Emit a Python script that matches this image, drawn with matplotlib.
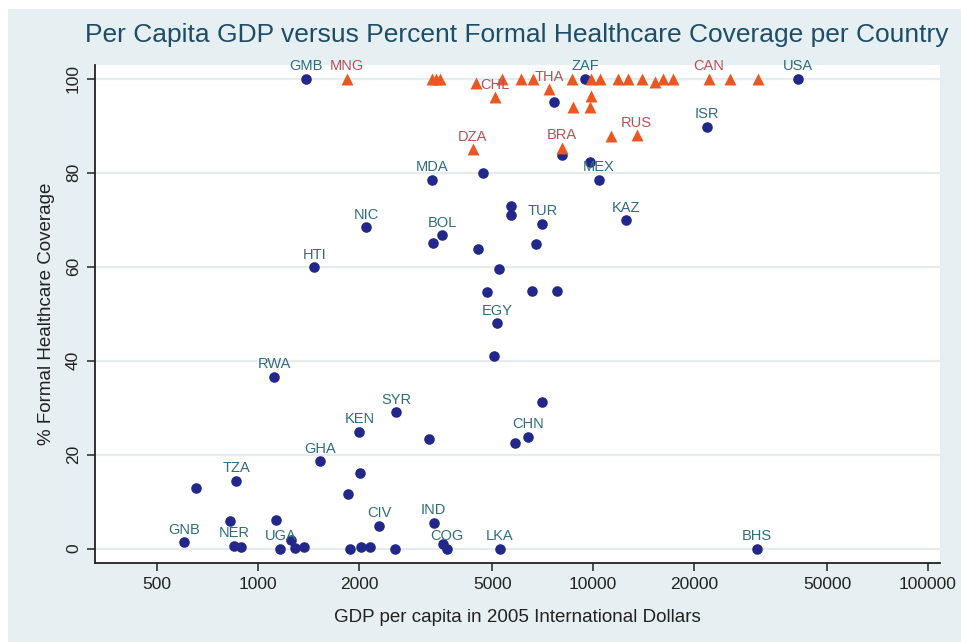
import matplotlib
matplotlib.use("Agg")
import matplotlib.pyplot as plt
from matplotlib.patches import Rectangle
from matplotlib.ticker import FixedLocator, NullLocator

# Countries with formal coverage (circles)
circle_gdp = [1388, 9465, 40930, 7647, 8065, 9800, 21850, 10420, 3313, 4705,
              5679, 5679, 7060, 12550, 2101, 3549, 3337, 6758, 4546, 1472,
              5241, 4836, 6589, 7806, 5169, 5052, 1116, 2582, 2006, 3233,
              7044, 6410, 5838, 1528, 2020, 860, 653, 1860, 827, 1129,
              2302, 3346, 603, 848, 888, 1252, 1166, 1289, 1375, 1882,
              2036, 2160, 2564, 3574, 3659, 5277, 30870]
circle_cov = [100, 100, 100, 95.0, 83.8, 82.3, 89.8, 78.5, 78.5, 79.9,
              72.9, 70.9, 69.1, 69.9, 68.4, 66.7, 65.1, 64.8, 63.7, 59.9,
              59.5, 54.5, 54.9, 54.9, 48.0, 41.0, 36.6, 29.0, 24.9, 23.3,
              31.1, 23.8, 22.4, 18.6, 16.0, 14.4, 12.85, 11.6, 5.9, 6.2,
              4.9, 5.5, 1.4, 0.6, 0.4, 1.85, 0.0, 0.1, 0.4, 0.0,
              0.3, 0.4, 0.0, 1.0, 0.0, 0.0, 0.0]
circle_lab = ["GMB", "ZAF", "USA", "", "", "", "ISR", "MEX", "MDA", "",
              "", "", "TUR", "KAZ", "NIC", "BOL", "", "", "", "HTI",
              "", "", "", "", "EGY", "", "RWA", "SYR", "KEN", "",
              "", "CHN", "", "GHA", "", "TZA", "", "", "", "",
              "CIV", "IND", "GNB", "NER", "", "", "UGA", "", "", "",
              "", "", "", "", "COG", "LKA", "BHS"]

# Countries with universal-style coverage (triangles)
tri_gdp = [1840, 3300, 3400, 3500, 4474, 5100, 5339, 6084, 6606, 7406,
           8640, 8735, 9800, 9870, 9870, 10490, 11898, 12749, 13975, 15313,
           16214, 17365, 22200, 25645, 31150, 4375, 8065, 11290, 13500]
tri_cov = [100, 100, 100, 100, 99.0, 96.0, 100, 100, 100, 97.7,
           100, 93.9, 93.9, 96.2, 100, 100, 100, 100, 100, 99.2,
           100, 100, 100, 100, 100, 85.0, 85.3, 87.7, 88.0]
tri_lab = ["MNG", "", "", "", "", "CHL", "", "", "", "THA",
           "", "", "", "", "", "", "", "", "", "",
           "", "", "CAN", "", "", "DZA", "BRA", "", "RUS"]

x_ticks = [500, 1000, 2000, 5000, 10000, 20000, 50000, 100000]
y_ticks = [0, 20, 40, 60, 80, 100]

title = "Per Capita GDP versus Percent Formal Healthcare Coverage per Country"
x_label = "GDP per capita in 2005 International Dollars"
y_label = "% Formal Healthcare Coverage"

panel_bg = "#e6eff2"
dot_color = "#22288a"
tri_color = "#ec5620"
dot_text = "#2e6c7c"
tri_text = "#b8505a"
narrow = ["Liberation Sans Narrow", "Liberation Sans", "DejaVu Sans"]
regular = ["Liberation Sans", "DejaVu Sans"]

fig = plt.figure(figsize=(9.62, 6.42), dpi=100, facecolor="white")
fig.patches.append(Rectangle((8 / 962, 0), 1, 1 - 9 / 642,
                             transform=fig.transFigure, facecolor=panel_bg,
                             edgecolor="none", zorder=-10))

ax = fig.add_axes([95 / 962, 1 - 563 / 642, (940 - 95) / 962, (563 - 65) / 642])
ax.set_facecolor("white")
ax.set_xscale("log")
ax.set_xlim(326, 108600)
ax.set_ylim(-3.05, 102.9)

for y in y_ticks:
    ax.axhline(y, color="#e4ecf0", lw=1.6, zorder=0)

ax.scatter(circle_gdp, circle_cov, s=58, color=dot_color, marker="o",
           linewidths=0, zorder=3)
ax.scatter(tri_gdp, tri_cov, s=74, color=tri_color, marker="^",
           linewidths=0, zorder=4)

for x, y, t in zip(circle_gdp, circle_cov, circle_lab):
    if t:
        ax.annotate(t, (x, y), xytext=(0, 9), textcoords="offset points",
                    ha="center", va="center", fontsize=10.5, color=dot_text,
                    family=regular, zorder=5)
for x, y, t in zip(tri_gdp, tri_cov, tri_lab):
    if t:
        ax.annotate(t, (x, y), xytext=(0, 9), textcoords="offset points",
                    ha="center", va="center", fontsize=10.5, color=tri_text,
                    family=regular, zorder=5)

ax.xaxis.set_major_locator(FixedLocator(x_ticks))
ax.xaxis.set_minor_locator(NullLocator())
ax.set_xticklabels([str(v) for v in x_ticks], family=narrow, fontsize=12.5)
ax.set_yticks(y_ticks)
ax.set_yticklabels([str(v) for v in y_ticks], family=narrow, fontsize=12.5,
                   rotation=90, va="center")

for side in ("top", "right"):
    ax.spines[side].set_visible(False)
for side in ("left", "bottom"):
    ax.spines[side].set_color("#222222")
    ax.spines[side].set_linewidth(1.3)
ax.tick_params(axis="both", direction="out", length=6, width=1.1,
               color="#222222", labelcolor="#222222", pad=4)

ax.set_xlabel(x_label, family=narrow, fontsize=13.5, color="#222222", labelpad=12)
ax.set_ylabel(y_label, family=regular, fontsize=13.5, color="#222222", labelpad=8)

fig.text(517 / 962, 1 - 35 / 642, title, ha="center", va="center",
         fontsize=19, color="#1e4d68", family=regular)

fig.savefig("out.png", dpi=100, facecolor=fig.get_facecolor())
